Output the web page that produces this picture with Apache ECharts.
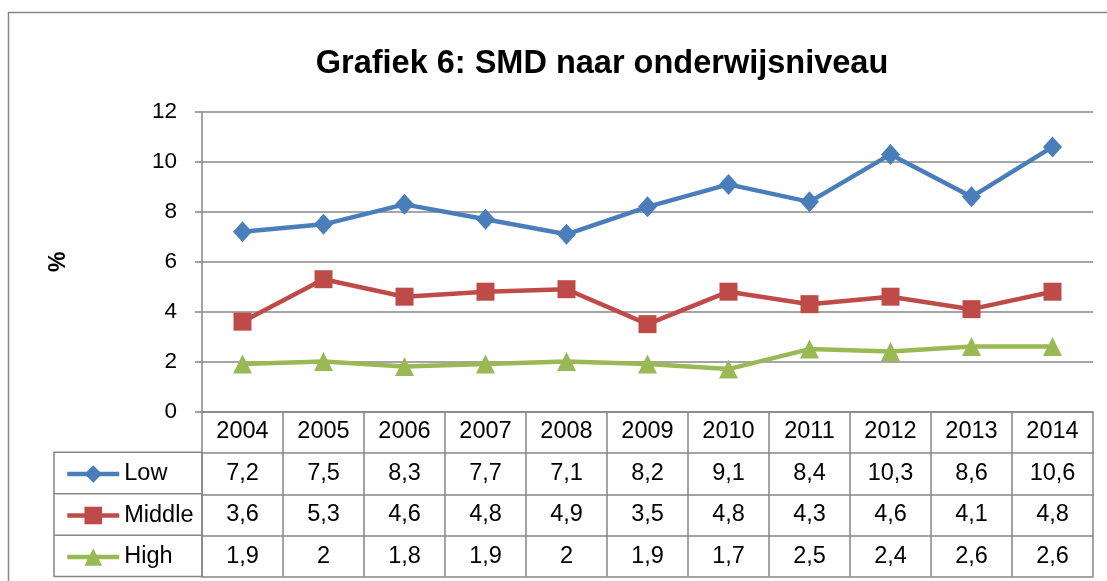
<!DOCTYPE html>
<html>
<head>
<meta charset="utf-8">
<script src="https://cdn.jsdelivr.net/npm/echarts@6/dist/echarts.min.js"></script>
<style>
  html, body { margin: 0; padding: 0; background: #fff; }
  #myChart { width: 1107px; height: 581px; }
</style>
</head>
<body>
<div id="myChart"></div>
<script>
// jaren en waarden per onderwijsniveau
var years = ["2004", "2005", "2006", "2007", "2008", "2009", "2010", "2011", "2012", "2013", "2014"];
var low = [7.2, 7.5, 8.3, 7.7, 7.1, 8.2, 9.1, 8.4, 10.3, 8.6, 10.6];
var middle = [3.6, 5.3, 4.6, 4.8, 4.9, 3.5, 4.8, 4.3, 4.6, 4.1, 4.8];
var high = [1.9, 2, 1.8, 1.9, 2, 1.9, 1.7, 2.5, 2.4, 2.6, 2.6];
var yTicks = [0, 2, 4, 6, 8, 10, 12];

var FONT = "Liberation Sans, Arial, sans-serif";
var GRAY = "#878787";

function fmt(arr) {
  return arr.map(function (v) { return String(v).replace(".", ","); });
}

// tabelrij onder de grafiek (as met labels)
function rowAxis(data, offset, show) {
  return {
    type: "category",
    position: "bottom",
    offset: offset,
    data: data,
    boundaryGap: true,
    axisLine: { show: true, lineStyle: { color: GRAY, width: 1.5 } },
    axisTick: { show: false },
    axisLabel: {
      show: show,
      interval: 0,
      margin: 0,
      color: "#000",
      fontFamily: FONT,
      fontSize: 23.5,
      lineHeight: 41,
      verticalAlign: "top"
    }
  };
}

var mycharts = echarts.init(document.getElementById("myChart"));

var option = {
  animation: false,
  title: {
    text: "Grafiek 6: SMD naar onderwijsniveau",
    left: 597,
    textAlign: "center",
    top: 43,
    textStyle: { fontFamily: FONT, fontSize: 32.5, fontWeight: "bold", color: "#000" }
  },
  legend: {
    orient: "vertical",
    left: 60,
    top: 457,
    itemWidth: 52,
    itemHeight: 22,
    itemGap: 17.5,
    lineStyle: { width: 4.5 },
    textStyle: { fontFamily: FONT, fontSize: 23.5, color: "#000", lineHeight: 22 },
    data: ["Low", "Middle", "High"]
  },
  grid: {
    left: 202,
    right: 14,
    top: 112,
    bottom: 169.5,
    containLabel: false
  },
  xAxis: [
    {
      type: "category",
      data: years,
      boundaryGap: true,
      axisLine: { show: true, lineStyle: { color: GRAY, width: 1.5 } },
      axisTick: { show: true, interval: 0, length: 165, lineStyle: { color: GRAY, width: 1.5 } },
      axisLabel: {
        interval: 0,
        margin: 0,
        color: "#000",
        fontFamily: FONT,
        fontSize: 23.5,
        lineHeight: 41,
        verticalAlign: "top"
      }
    },
    rowAxis(fmt(low), 41.3, true),
    rowAxis(fmt(middle), 82.8, true),
    rowAxis(fmt(high), 124.3, true),
    rowAxis(years, 165, false)
  ],
  yAxis: {
    type: "value",
    min: yTicks[0],
    max: yTicks[yTicks.length - 1],
    interval: 2,
    name: "%",
    nameLocation: "middle",
    nameRotate: 90,
    nameGap: 132,
    nameTextStyle: { fontFamily: FONT, fontSize: 23, fontWeight: "bold", color: "#000" },
    axisLine: { show: true, lineStyle: { color: GRAY, width: 1.5 } },
    axisTick: { show: true, length: 7, lineStyle: { color: GRAY, width: 1.5 } },
    splitLine: { lineStyle: { color: GRAY, width: 1.5 } },
    axisLabel: { margin: 25, color: "#000", fontFamily: FONT, fontSize: 22.5 }
  },
  series: [
    {
      name: "Low",
      type: "line",
      data: low,
      symbol: "diamond",
      symbolSize: [19, 21],
      color: "#4A7EBB",
      lineStyle: { width: 4.5 }
    },
    {
      name: "Middle",
      type: "line",
      data: middle,
      symbol: "rect",
      symbolSize: 18,
      color: "#BE4B48",
      lineStyle: { width: 4.5 }
    },
    {
      name: "High",
      type: "line",
      data: high,
      symbol: "triangle",
      symbolSize: 19,
      color: "#98B954",
      lineStyle: { width: 4.5 }
    }
  ],
  graphic: [
    {
      type: "rect",
      shape: { x: 8.5, y: 12.5, width: 1300, height: 800 },
      style: { fill: null, stroke: GRAY, lineWidth: 1.5 },
      silent: true
    },
    {
      type: "rect",
      shape: { x: 54, y: 452.3, width: 148, height: 124.2 },
      style: { fill: null, stroke: GRAY, lineWidth: 1.5 },
      silent: true
    },
    {
      type: "line",
      shape: { x1: 54, y1: 493.8, x2: 202, y2: 493.8 },
      style: { stroke: GRAY, lineWidth: 1.5 },
      silent: true
    },
    {
      type: "line",
      shape: { x1: 54, y1: 535.3, x2: 202, y2: 535.3 },
      style: { stroke: GRAY, lineWidth: 1.5 },
      silent: true
    }
  ]
};

mycharts.setOption(option);
</script>
</body>
</html>
